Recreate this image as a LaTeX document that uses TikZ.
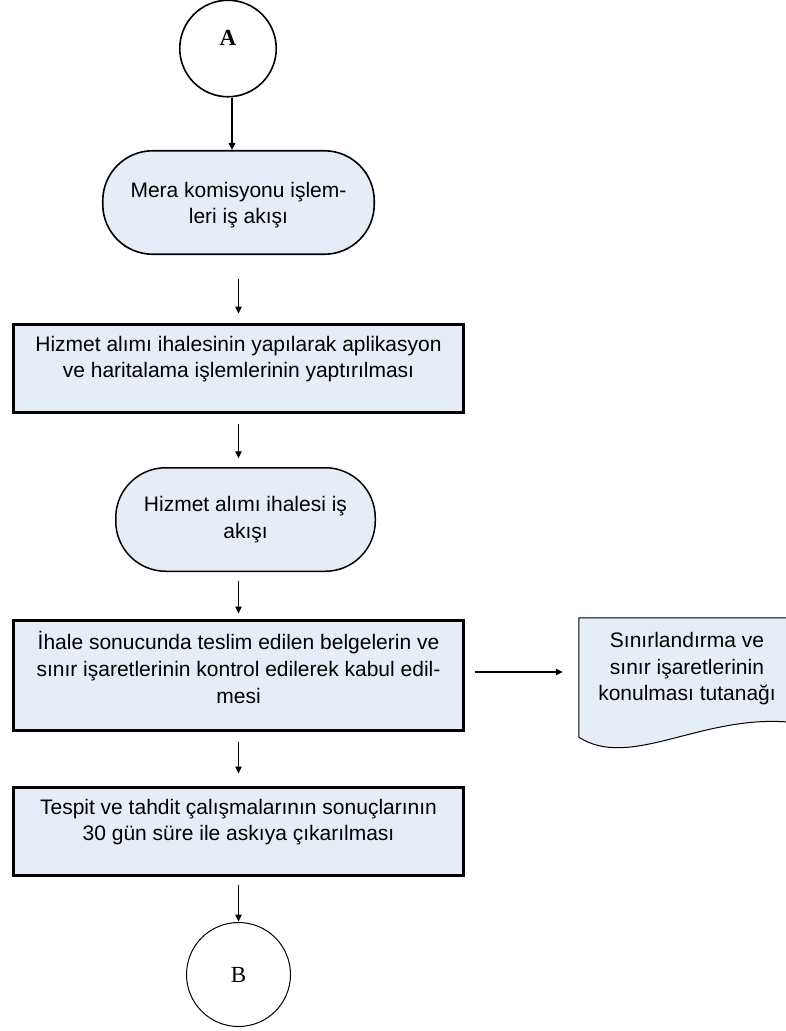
\documentclass[tikz,border=0pt]{standalone}
\usepackage{fontspec}
\setmainfont{Liberation Sans}
\newfontfamily\serifface{Liberation Serif}
\usetikzlibrary{arrows.meta}
\definecolor{boxfill}{RGB}{231,237,247}
\begin{document}
\begin{tikzpicture}[x=1pt,y=-1pt,
  txt/.style={align=center, inner sep=0pt, font=\fontsize{21}{26}\selectfont},
  procbox/.style={draw, line width=3pt, fill=boxfill, minimum width=450pt, inner sep=0pt},
  termbox/.style={draw, rectangle, rounded corners=50pt, line width=1.6pt, fill=boxfill, minimum height=103.5pt, inner sep=0pt},
  conn/.style={draw, circle, fill=white, inner sep=0pt},
  arr/.style={-{Triangle[length=7pt,width=6.5pt]}, line width=1.4pt}
]
\fill[white] (0,0) rectangle (785,1031);
\useasboundingbox (0,0) rectangle (785,1031);

% connector A
\node[conn, line width=1.6pt, minimum size=96.5pt] (A) at (228,48.5) {};
\node[inner sep=0pt, font=\serifface\bfseries\fontsize{23}{27}\selectfont] (Alab) at ([yshift=10.5pt]A.center) {A};

% terminator 1
\node[termbox, minimum width=271.5pt] (T1) at (238.5,202.5) {};
\node[txt] (T1t) at ([yshift=-3pt]T1.center) {Mera komisyonu işlem-\\leri iş akışı};

% process 1
\node[procbox, minimum height=88pt] (B1) at (238.5,368.5) {};
\node[txt] (B1t) at ([yshift=9pt]B1.center) {Hizmet alımı ihalesinin yapılarak aplikasyon\\ve haritalama işlemlerinin yaptırılması};

% terminator 2
\node[termbox, line width=1.5pt, minimum width=259.5pt] (T2) at (245.5,519.5) {};
\node[txt, font=\fontsize{21}{27}\selectfont] (T2t) at (T2.center) {Hizmet alımı ihalesi iş\\akışı};

% process 2
\node[procbox, minimum height=110pt] (B2) at (238.5,675.5) {};
\node[txt, font=\fontsize{21}{27}\selectfont] (B2t) at ([yshift=8.5pt]B2.center) {İhale sonucunda teslim edilen belgelerin ve\\sınır işaretlerinin kontrol edilerek kabul edil-\\mesi};

% document
\node[minimum width=209pt, minimum height=119pt, inner sep=0pt] (doc) at (683.5,677.5) {};
\draw[line width=1pt, fill=boxfill] (doc.north west) -- (doc.north east) -- (788,722)
  .. controls (700,715) and (630,770) .. (doc.south west) -- cycle;
\node[txt, font=\fontsize{21}{26.5}\selectfont] (doct) at ([xshift=3.5pt,yshift=8.5pt]doc.center) {Sınırlandırma ve\\sınır işaretlerinin\\konulması tutanağı};

% process 3
\node[procbox, minimum height=88pt] (B3) at (238.5,831.5) {};
\node[txt] (B3t) at ([yshift=9pt]B3.center) {Tespit ve tahdit çalışmalarının sonuçlarının\\30 gün süre ile askıya çıkarılması};

% connector B
\node[conn, line width=1pt, minimum size=104pt, font=\serifface\fontsize{23}{27}\selectfont] (B) at (238.5,974.5) {B};

% arrows
\draw[arr] ([xshift=4pt]A.south) -- ([xshift=4pt]A.south |- T1.north);
\draw[arr, shorten <=24pt, shorten >=9.5pt] (T1.south) -- (B1.north);
\draw[arr, shorten <=9.5pt, shorten >=8.75pt] (B1.south) -- (B1.south |- T2.north);
\draw[arr, shorten <=8.75pt, shorten >=5.5pt] (B2.north |- T2.south) -- (B2.north);
\draw[arr, shorten <=9.5pt, shorten >=16pt] ([yshift=3.5pt]B2.east) -- ([yshift=3.5pt]B2.east -| doc.west);
\draw[arr, shorten <=9.5pt, shorten >=12.5pt] (B2.south) -- (B3.north);
\draw[arr, shorten <=7.5pt, shorten >=0.5pt] (B3.south) -- (B.north);
\end{tikzpicture}
\end{document}
